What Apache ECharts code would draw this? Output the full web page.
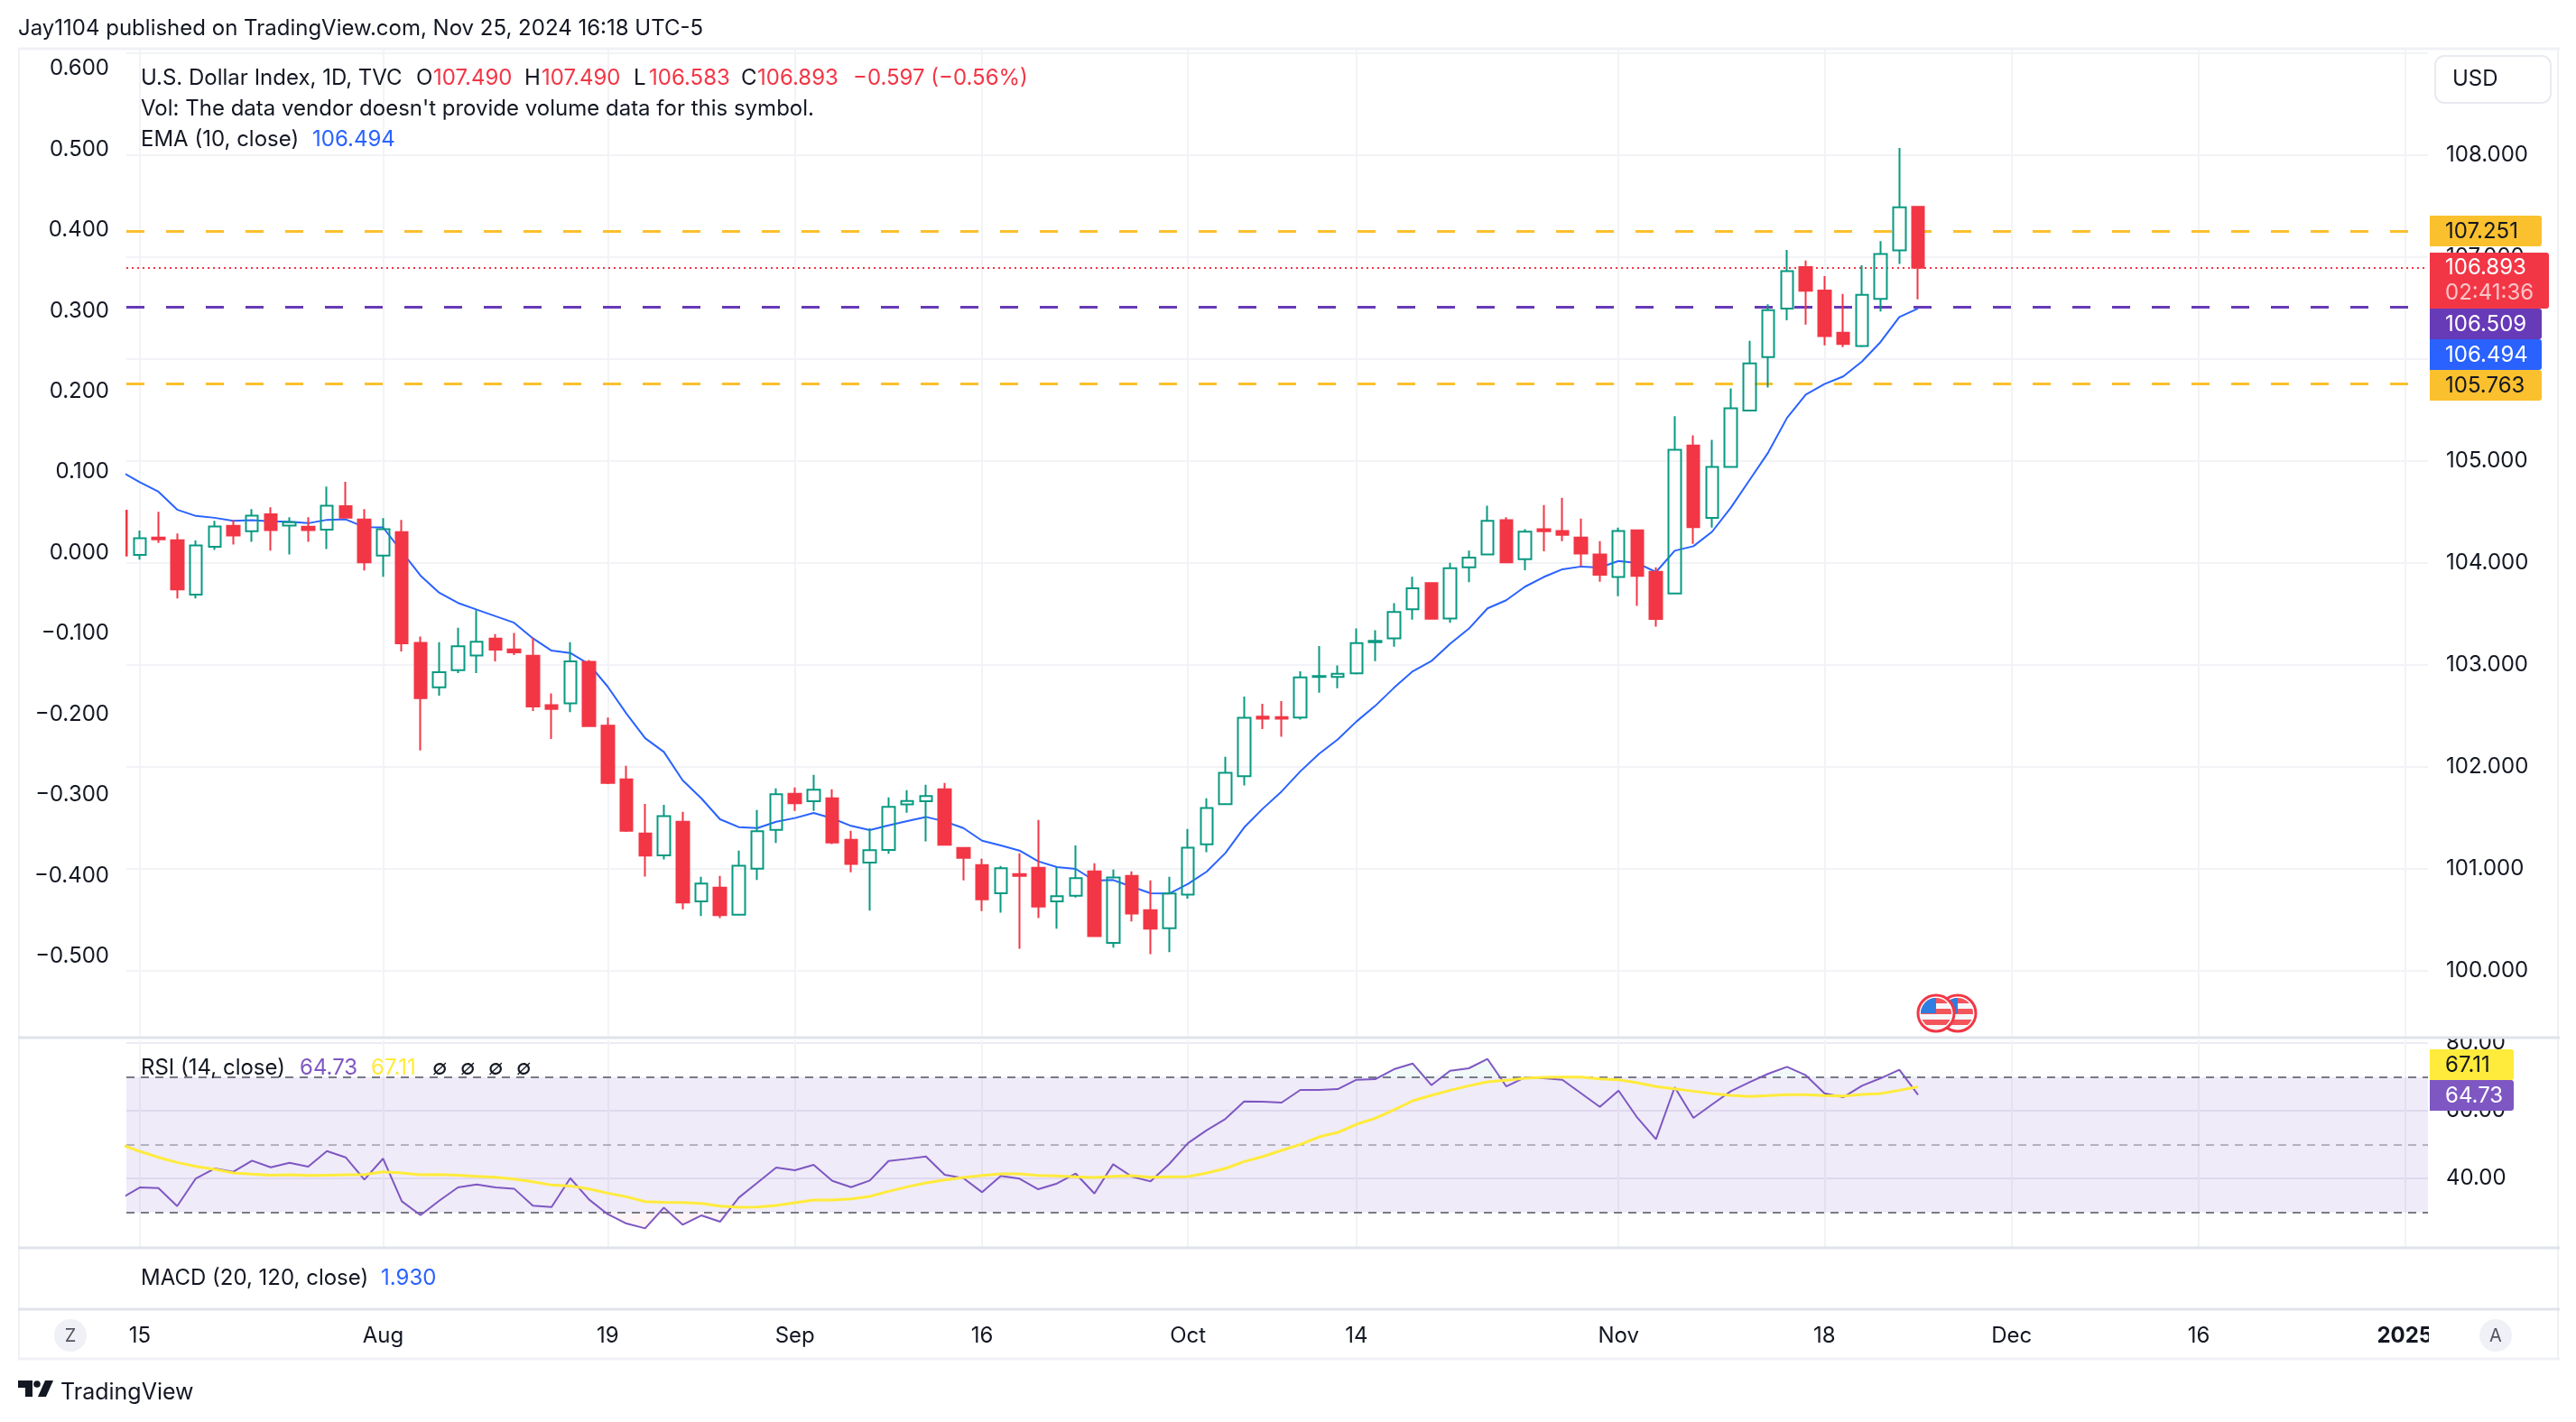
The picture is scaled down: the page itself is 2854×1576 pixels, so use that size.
<!DOCTYPE html>
<html>
<head>
<meta charset="utf-8">
<title>U.S. Dollar Index</title>
<script src="https://cdn.jsdelivr.net/npm/echarts@6/dist/echarts.min.js"></script>
<style>
  html, body { margin: 0; padding: 0; background: #fff; }
  #chart { width: 2854px; height: 1576px; }
</style>
</head>
<body>
<div id="chart"></div>
<script>
// daily bars, first one is the Friday before the "15" label (bar -1)
const opens = [104.51,104.076,104.247,104.22,103.688,104.156,104.362,104.309,104.476,104.365,104.353,104.324,104.556,104.424,104.071,104.3,103.215,102.779,102.947,103.091,103.256,103.15,103.088,102.603,102.621,103.029,102.403,101.876,101.345,101.13,101.46,100.678,100.814,100.549,101,101.381,101.735,101.661,101.69,101.283,101.059,101.183,101.631,101.661,101.779,101.204,101.035,100.758,100.947,101.009,100.678,100.735,100.973,100.271,100.929,100.593,100.416,100.746,101.239,101.633,101.907,102.49,102.486,102.482,102.88,102.879,102.915,103.22,103.259,103.544,103.8,103.453,103.956,104.082,104.418,104.035,104.33,104.311,104.247,104.081,103.861,104.318,103.912,103.699,105.151,104.44,104.941,105.492,106.017,106.494,106.9,106.67,106.257,106.125,106.589,107.063,107.49];
const highs = [104.53,104.315,104.5,104.288,104.218,104.412,104.421,104.526,104.544,104.447,104.447,104.747,104.794,104.526,104.438,104.421,103.276,103.221,103.362,103.535,103.3,103.312,103.265,102.718,103.221,103.047,102.482,102.009,101.634,101.625,101.558,100.92,100.929,101.177,101.575,101.788,101.796,101.92,101.779,101.372,101.395,101.699,101.77,101.823,101.841,101.21,101.097,101.027,101.15,101.478,101.018,101.227,101.053,100.991,100.973,100.885,100.92,101.389,101.689,102.096,102.688,102.617,102.644,102.935,103.183,102.994,103.356,103.339,103.604,103.862,103.805,104,104.118,104.559,104.447,104.329,104.565,104.636,104.433,104.213,104.345,104.32,103.956,105.438,105.249,105.205,105.709,106.176,106.535,107.069,106.964,106.812,106.636,106.917,107.154,108.068,107.49];
const lows = [104.05,104.03,104.194,103.65,103.65,104.126,104.179,104.206,104.118,104.082,104.206,104.135,104.44,103.924,103.862,103.129,102.159,102.697,102.918,102.918,103.032,103.094,102.547,102.271,102.535,102.39,101.83,101.36,100.923,101.091,100.602,100.534,100.516,100.54,100.888,101.251,101.566,101.566,101.24,100.965,100.587,101.145,101.549,101.268,101.225,100.885,100.584,100.569,100.215,100.516,100.41,100.717,100.33,100.224,100.481,100.162,100.18,100.705,101.162,101.625,101.816,102.37,102.293,102.461,102.726,102.77,102.905,103.035,103.177,103.441,103.445,103.412,103.809,104.075,103.995,103.926,104.112,104.213,103.966,103.814,103.672,103.577,103.374,103.69,104.186,104.345,104.93,105.485,105.719,106.379,106.335,106.132,106.115,106.115,106.464,106.931,106.583];
const closes = [104.07,104.241,104.229,103.738,104.171,104.356,104.268,104.462,104.321,104.397,104.321,104.559,104.441,104.003,104.329,103.209,102.671,102.926,103.182,103.226,103.147,103.121,102.591,102.565,103.032,102.397,101.841,101.372,101.127,101.516,100.667,100.853,100.543,101.029,101.366,101.729,101.64,101.773,101.257,101.047,101.18,101.605,101.664,101.711,101.233,101.106,100.699,101.003,100.929,100.628,100.729,100.906,100.339,100.914,100.56,100.41,100.755,101.206,101.595,101.94,102.479,102.47,102.47,102.876,102.89,102.912,103.212,103.235,103.518,103.75,103.45,103.947,104.05,104.412,104.003,104.306,104.31,104.274,104.091,103.882,104.311,103.871,103.448,105.107,104.349,104.941,105.516,105.956,106.477,106.86,106.667,106.223,106.146,106.629,107.029,107.486,106.893];
const ema10 = [104.895,104.791,104.697,104.521,104.459,104.441,104.412,104.418,104.406,104.403,104.388,104.421,104.426,104.35,104.347,104.109,103.874,103.706,103.606,103.541,103.476,103.412,103.259,103.138,103.115,103.006,102.785,102.521,102.279,102.144,101.867,101.69,101.484,101.407,101.398,101.46,101.496,101.546,101.493,101.419,101.378,101.425,101.466,101.507,101.463,101.398,101.274,101.227,101.177,101.071,101.015,100.997,100.882,100.888,100.823,100.758,100.755,100.85,100.971,101.153,101.404,101.589,101.757,101.954,102.125,102.267,102.443,102.596,102.773,102.935,103.035,103.206,103.353,103.553,103.632,103.765,103.86,103.936,103.963,103.953,104.017,103.997,103.909,104.118,104.162,104.305,104.541,104.812,105.083,105.421,105.648,105.753,105.827,105.973,106.166,106.41,106.494];
const rsi14 = [34.09,37.38,37.2,31.87,40.04,42.98,42,45.29,43.33,44.67,43.51,48.13,46.27,39.69,45.91,33.29,29.2,33.47,37.38,38.27,37.38,37.02,31.96,31.6,40.13,33.82,29.47,26.71,25.29,31.42,26.36,29.11,27.24,34.36,38.8,43.24,42.44,44.04,39.33,37.47,39.42,45.2,45.82,46.53,41.11,40.13,35.96,40.76,39.96,36.84,38.53,41.47,35.6,44.22,40.58,39.16,44.31,50.5,54.27,57.64,62.8,62.71,62.44,66.18,66.18,66.44,69.2,69.38,72.31,74,67.6,71.87,72.58,75.33,67.24,69.91,69.64,69.2,65.2,61.2,66,58,51.6,66.98,57.91,61.91,65.82,68.49,70.98,73.02,70.53,65.2,64.04,67.42,69.64,72.13,64.73];
const rsiMa = [50.09,48.04,46.27,44.76,43.6,42.71,41.64,41.29,41.02,41.11,40.93,41.02,41.11,41.2,42,41.64,41.11,41.2,41.02,40.67,40.4,39.87,39.07,38.09,37.82,36.93,35.69,34.62,33.2,33.02,32.93,32.67,31.87,31.51,31.6,32.04,32.84,33.64,33.64,34,34.71,36.22,37.56,38.71,39.6,40.31,40.93,41.38,41.38,40.93,40.76,40.49,40.31,40.67,40.84,40.4,40.49,40.58,41.64,42.98,45.02,46.53,48.31,50.09,52.31,53.64,56.04,57.82,60.31,62.98,64.58,66.09,67.42,68.58,69.02,69.64,69.91,70,70,69.47,69.2,68.31,67.16,66.53,65.82,65.11,64.58,64.22,64.49,64.76,64.76,64.49,64.4,64.84,65.11,66.09,67.11];

// time scale, bar number of each label
const timeTicks = [0, 13, 25, 35, 45, 56, 65, 79, 90, 100, 110, 121];
const timeLabels = ['15', 'Aug', '19', 'Sep', '16', 'Oct', '14', 'Nov', '18', 'Dec', '16', '2025'];
const priceTicks = [100, 101, 102, 103, 104, 105, 106, 107, 108];
const priceGrid = [100, 101, 102, 103, 104, 105, 106, 107, 108, 109];
const percentTicks = [0.6, 0.5, 0.4, 0.3, 0.2, 0.1, 0, -0.1, -0.2, -0.3, -0.4, -0.5];
const rsiTicks = [40, 60, 80];
const levelHigh = 107.251;
const levelMid = 106.509;
const levelLow = 105.763;
const lastPrice = 106.893;

const FONT = 'Inter, "Noto Sans", sans-serif';
const INK = '#131722';
const UP = '#089981';
const DOWN = '#f23645';
const BLUE = '#2962ff';
const PURPLE = '#7e57c2';
const YELLOW = '#ffeb3b';
const AMBER = '#fbc02d';
const DEEP = '#673ab7';
const GRIDLINE = '#f2f3f6';

const bars = closes.map((_, i) => i - 1);
const candleData = bars.map((b, i) => [b, opens[i], closes[i], lows[i], highs[i]]);
const pair = (list) => list.map((v, i) => [bars[i], v]);

// little pieces of TradingView chrome, drawn on top of the chart
function priceTag(x, y, w, h, fill, color, text) {
  return [
    { type: 'rect', z: 100, shape: { x, y, width: w, height: h, r: [0, 3, 3, 0] }, style: { fill } },
    { type: 'text', z: 101, style: { x: x + 17, y: y + h / 2 + 1, text, fill: color, font: '24px ' + FONT, verticalAlign: 'middle' } }
  ];
}
function hLine(x1, x2, y, stroke, w) {
  return { type: 'line', z: 95, shape: { x1, y1: y, x2, y2: y }, style: { stroke, lineWidth: w } };
}
function vLine(x, y1, y2, stroke, w) {
  return { type: 'line', z: 95, shape: { x1: x, y1, x2: x, y2 }, style: { stroke, lineWidth: w } };
}
function flagIcon(cx, cy, z) {
  const svg = '<svg xmlns="http://www.w3.org/2000/svg" width="44" height="44" viewBox="0 0 44 44">' +
    '<clipPath id="c"><circle cx="22" cy="22" r="17"/></clipPath>' +
    '<circle cx="22" cy="22" r="20" fill="#fff" stroke="#f23645" stroke-width="3"/>' +
    '<g clip-path="url(#c)"><rect width="44" height="44" fill="#f7f7f9"/>' +
    '<rect y="5" width="44" height="6" fill="#f4545c"/><rect y="17" width="44" height="6" fill="#f4545c"/><rect y="29" width="44" height="6" fill="#f4545c"/>' +
    '<rect y="2" width="22" height="20" fill="#2f7de1"/></g></svg>';
  return { type: 'image', z, style: { image: 'data:image/svg+xml;charset=utf-8,' + encodeURIComponent(svg), x: cx - 22, y: cy - 22, width: 44, height: 44 } };
}
function roundButton(cx, letter, color) {
  return [
    { type: 'circle', z: 100, shape: { cx, cy: 1480, r: 18 }, style: { fill: '#f0f1f6' } },
    { type: 'text', z: 101, style: { x: cx, y: 1481, text: letter, fill: color, font: '20px ' + FONT, align: 'center', verticalAlign: 'middle' } }
  ];
}
function label(x, y, text, fill) {
  return { type: 'text', z: 90, style: { x, y, text, fill: fill || INK, font: '24px ' + FONT, verticalAlign: 'middle' } };
}

const chrome = [
  // covers for what sticks out past the panes
  { type: 'rect', z: 80, shape: { x: 123, y: 540, width: 16, height: 100 }, style: { fill: '#fff' } },
  { type: 'rect', z: 80, shape: { x: 2691, y: 1120, width: 140, height: 31 }, style: { fill: '#fff' } },
  { type: 'rect', z: 80, shape: { x: 2691, y: 1455, width: 140, height: 48 }, style: { fill: '#fff' } },

  // frame and pane separators
  hLine(20, 2836, 54, '#f0f1f6', 3),
  vLine(21, 54, 1506, '#f0f1f6', 2),
  vLine(2834, 54, 1506, '#f0f1f6', 2),
  hLine(20, 2836, 1150, '#e0e3eb', 3),
  hLine(20, 2836, 1383, '#e0e3eb', 3),
  hLine(20, 2836, 1451, '#e0e3eb', 3),
  hLine(20, 2836, 1506, '#f0f1f6', 3),

  // header
  label(20, 32, 'Jay1104 published on TradingView.com, Nov 25, 2024 16:18 UTC-5'),
  label(156, 87, 'U.S. Dollar Index, 1D, TVC'),
  label(461, 87, 'O'), label(480, 87, '107.490', DOWN),
  label(581, 87, 'H'), label(600, 87, '107.490', DOWN),
  label(702, 87, 'L'), label(719, 87, '106.583', DOWN),
  label(821, 87, 'C'), label(839, 87, '106.893', DOWN),
  label(945, 87, '−0.597 (−0.56%)', DOWN),
  label(156, 121, "Vol: The data vendor doesn't provide volume data for this symbol."),
  label(156, 155, 'EMA (10, close)'), label(346, 155, '106.494', BLUE),
  label(156, 1184, 'RSI (14, close)'), label(332, 1184, '64.73', PURPLE), label(411, 1184, '67.11', YELLOW),
  label(479, 1184, '∅'), label(510, 1184, '∅'), label(541, 1184, '∅'), label(572, 1184, '∅'),
  label(156, 1417, 'MACD (20, 120, close)'), label(422, 1417, '1.930', BLUE),

  // currency button
  { type: 'rect', z: 100, shape: { x: 2698, y: 62, width: 128, height: 52, r: 10 }, style: { fill: '#fff', stroke: '#e9eaf0', lineWidth: 2 } },
  { type: 'text', z: 101, style: { x: 2717, y: 88, text: 'USD', fill: INK, font: '24px ' + FONT, verticalAlign: 'middle' } },

  // last price tag has the countdown under it
  { type: 'rect', z: 100, shape: { x: 2692, y: 280, width: 132, height: 62, r: [0, 3, 3, 0] }, style: { fill: DOWN } },
  { type: 'text', z: 101, style: { x: 2709, y: 297, text: lastPrice.toFixed(3), fill: '#fff', font: '24px ' + FONT, verticalAlign: 'middle' } },
  { type: 'text', z: 101, style: { x: 2709, y: 325, text: '02:41:36', fill: '#fbc4c8', font: '24px ' + FONT, verticalAlign: 'middle' } },
  ...priceTag(2692, 239, 124, 34, AMBER, INK, levelHigh.toFixed(3)),
  ...priceTag(2692, 342, 124, 34, DEEP, '#fff', levelMid.toFixed(3)),
  ...priceTag(2692, 376, 124, 34, BLUE, '#fff', '106.494'),
  ...priceTag(2692, 410, 124, 34, AMBER, INK, levelLow.toFixed(3)),
  ...priceTag(2692, 1163, 93, 34, YELLOW, INK, '67.11'),
  ...priceTag(2692, 1197, 93, 34, PURPLE, '#fff', '64.73'),

  // event flags
  flagIcon(2169, 1123, 60),
  flagIcon(2145, 1123, 61),

  // corner buttons on the time scale
  ...roundButton(78, 'Z', '#50535e'),
  ...roundButton(2765, 'A', '#50535e'),

  // logo
  { type: 'polygon', z: 90, shape: { points: [[20, 1530], [36, 1530], [36, 1548], [28, 1548], [28, 1538], [20, 1538]] }, style: { fill: INK } },
  { type: 'circle', z: 90, shape: { cx: 41, cy: 1534, r: 3.8 }, style: { fill: INK } },
  { type: 'polygon', z: 90, shape: { points: [[50, 1530], [59, 1530], [51, 1548], [42, 1548]] }, style: { fill: INK } },
  { type: 'text', z: 90, style: { x: 67, y: 1543, text: 'TradingView', fill: INK, font: '25px ' + FONT, verticalAlign: 'middle' } }
];

const myChart = echarts.init(document.getElementById('chart'));

const option = {
  animation: false,
  backgroundColor: '#ffffff',
  textStyle: { fontFamily: FONT },
  graphic: { elements: chrome },
  grid: [
    { left: 140, width: 2550, top: 55, height: 1093 },
    { left: 140, width: 2550, top: 1153, height: 229 }
  ],
  xAxis: [
    {
      type: 'value', gridIndex: 0, min: -0.714, max: 122.24,
      axisLine: { show: false },
      axisTick: { show: false, customValues: timeTicks },
      axisLabel: { show: false },
      splitLine: { show: true, lineStyle: { color: GRIDLINE, width: 2 } }
    },
    {
      type: 'value', gridIndex: 1, min: -0.714, max: 122.24,
      axisLine: { show: false },
      axisTick: { show: false, customValues: timeTicks },
      axisLabel: {
        customValues: timeTicks,
        margin: 87,
        fontSize: 24,
        color: INK,
        formatter: (v) => {
          const text = timeLabels[timeTicks.indexOf(v)];
          return text === '2025' ? '{bold|2025}' : text;
        },
        rich: { bold: { fontSize: 24, fontWeight: 700, color: INK } }
      },
      splitLine: { show: true, lineStyle: { color: GRIDLINE, width: 2 } }
    }
  ],
  yAxis: [
    {
      type: 'value', gridIndex: 0, position: 'right', min: 99.36, max: 109.033,
      axisLine: { show: false },
      axisTick: { show: false, customValues: priceGrid },
      axisLabel: { customValues: priceTicks, margin: 20, fontSize: 24, color: INK, padding: [5, 0, 0, 0], formatter: (v) => v.toFixed(3) },
      splitLine: { show: true, lineStyle: { color: GRIDLINE, width: 2 } }
    },
    {
      type: 'value', gridIndex: 0, position: 'left', min: -0.5985, max: 0.6235,
      axisLine: { show: false },
      axisTick: { show: false },
      axisLabel: { customValues: percentTicks, margin: 19, fontSize: 24, color: INK, formatter: (v) => v.toFixed(3).replace('-', '−') },
      splitLine: { show: false }
    },
    {
      type: 'value', gridIndex: 1, position: 'right', min: 19.79, max: 80.85,
      axisLine: { show: false },
      axisTick: { show: false, customValues: rsiTicks },
      axisLabel: { customValues: rsiTicks, margin: 20, fontSize: 24, color: INK, padding: [4, 0, 0, 0], formatter: (v) => v.toFixed(2) },
      splitLine: { show: true, lineStyle: { color: '#eeeaf5', width: 2 } }
    }
  ],
  series: [
    {
      name: 'EMA', type: 'line', xAxisIndex: 0, yAxisIndex: 0, z: 2,
      data: pair(ema10), showSymbol: false, symbol: 'none',
      lineStyle: { color: BLUE, width: 2 },
      markLine: {
        silent: true, symbol: 'none', z: 1, label: { show: false },
        data: [
          { yAxis: levelHigh, lineStyle: { color: AMBER, width: 3, type: [20, 24] } },
          { yAxis: levelMid, lineStyle: { color: DEEP, width: 3, type: [20, 24] } },
          { yAxis: levelLow, lineStyle: { color: AMBER, width: 3, type: [20, 24] } },
          { yAxis: lastPrice, lineStyle: { color: DOWN, width: 2, type: [2, 4] } }
        ]
      }
    },
    {
      name: 'DXY', type: 'candlestick', xAxisIndex: 0, yAxisIndex: 0, z: 3,
      data: candleData, barWidth: 14,
      itemStyle: { color: 'rgba(255,255,255,0)', color0: DOWN, borderColor: UP, borderColor0: DOWN, borderWidth: 2 }
    },
    {
      name: 'RSI', type: 'line', xAxisIndex: 1, yAxisIndex: 2, z: 3,
      data: pair(rsi14), showSymbol: false, symbol: 'none',
      lineStyle: { color: PURPLE, width: 2 },
      markArea: { silent: true, itemStyle: { color: 'rgba(126,87,194,0.12)' }, data: [[{ yAxis: 70 }, { yAxis: 30 }]] },
      markLine: {
        silent: true, symbol: 'none', z: 2, label: { show: false },
        data: [
          { yAxis: 70, lineStyle: { color: '#787b86', width: 2, type: [9, 7] } },
          { yAxis: 50, lineStyle: { color: 'rgba(120,123,134,0.5)', width: 2, type: [9, 7] } },
          { yAxis: 30, lineStyle: { color: '#787b86', width: 2, type: [9, 7] } }
        ]
      }
    },
    {
      name: 'RSI MA', type: 'line', xAxisIndex: 1, yAxisIndex: 2, z: 4,
      data: pair(rsiMa), showSymbol: false, symbol: 'none',
      lineStyle: { color: YELLOW, width: 3 }
    },
    // faint tint where the RSI leaves the 30-70 band
    {
      name: 'RSI over', type: 'line', xAxisIndex: 1, yAxisIndex: 2, z: 2,
      data: pair(rsi14.map((v) => Math.max(v, 70))), showSymbol: false, symbol: 'none',
      lineStyle: { width: 0 }, areaStyle: { origin: 70, color: 'rgba(8,153,129,0.08)' }
    },
    {
      name: 'RSI under', type: 'line', xAxisIndex: 1, yAxisIndex: 2, z: 2,
      data: pair(rsi14.map((v) => Math.min(v, 30))), showSymbol: false, symbol: 'none',
      lineStyle: { width: 0 }, areaStyle: { origin: 30, color: 'rgba(242,54,69,0.08)' }
    }
  ]
};

option && myChart.setOption(option);
</script>
</body>
</html>
